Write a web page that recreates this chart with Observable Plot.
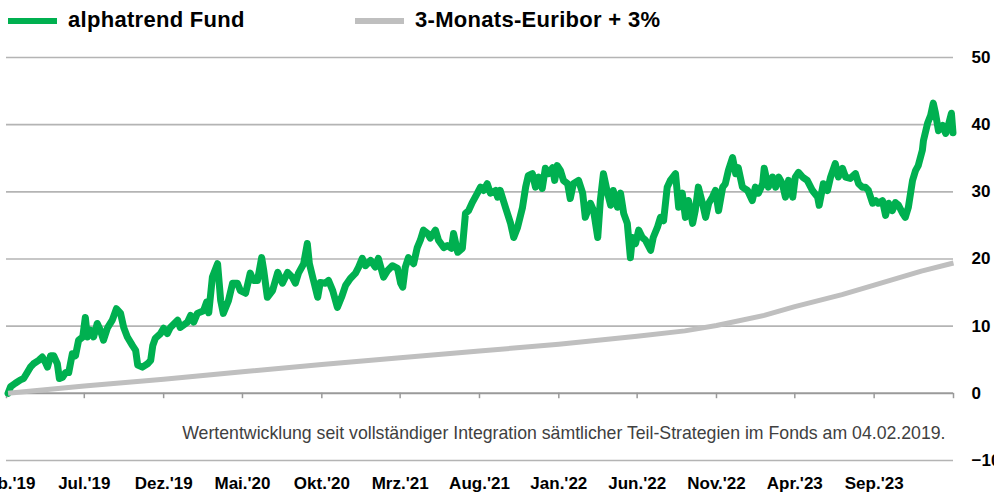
<!DOCTYPE html>
<html><head><meta charset="utf-8">
<script src="https://cdn.jsdelivr.net/npm/d3@7"></script>
<script src="https://cdn.jsdelivr.net/npm/@observablehq/plot@0.6"></script>
<style>
body{margin:0;background:#fff;width:994px;height:493px;overflow:hidden;font-family:"Liberation Sans",Arial,sans-serif}
#legend{position:relative;height:40px}
.sw{position:absolute;top:18px;width:49px;height:6px}
.lt{position:absolute;top:7px;font-size:22px;font-weight:bold;line-height:26px;letter-spacing:0.3px;color:#000;white-space:nowrap}
</style></head><body>
<div id="legend"></div>
<div id="chart"></div>
<script>
const seriesNames = ["alphatrend Fund", "3-Monats-Euribor + 3%"];
const seriesColors = ["#00b050", "#bfbfbf"];

const fundDates = ["2019-02-04","2019-02-09","2019-02-18","2019-02-28","2019-03-06","2019-03-13","2019-03-19","2019-03-25","2019-04-04","2019-04-11","2019-04-17","2019-04-21","2019-04-27","2019-05-03","2019-05-10","2019-05-14","2019-05-20","2019-05-26","2019-06-01","2019-06-08","2019-06-14","2019-06-20","2019-06-28","2019-07-03","2019-07-07","2019-07-13","2019-07-19","2019-07-26","2019-08-01","2019-08-07","2019-08-15","2019-08-24","2019-09-01","2019-09-09","2019-09-15","2019-09-22","2019-10-02","2019-10-08","2019-10-12","2019-10-21","2019-10-31","2019-11-06","2019-11-10","2019-11-15","2019-11-25","2019-12-01","2019-12-08","2019-12-14","2019-12-28","2020-01-02","2020-01-16","2020-01-22","2020-01-28","2020-02-04","2020-02-16","2020-02-22","2020-02-26","2020-03-04","2020-03-14","2020-03-20","2020-03-25","2020-04-04","2020-04-12","2020-04-21","2020-04-27","2020-05-07","2020-05-16","2020-05-22","2020-05-30","2020-06-07","2020-06-11","2020-06-18","2020-06-28","2020-07-08","2020-07-17","2020-07-27","2020-08-05","2020-08-11","2020-08-17","2020-08-27","2020-09-03","2020-09-07","2020-09-15","2020-09-23","2020-09-28","2020-10-08","2020-10-14","2020-10-22","2020-10-31","2020-11-08","2020-11-16","2020-11-25","2020-12-05","2020-12-11","2020-12-18","2020-12-24","2021-01-03","2021-01-12","2021-01-18","2021-01-28","2021-02-05","2021-02-14","2021-02-24","2021-03-02","2021-03-06","2021-03-11","2021-03-17","2021-03-27","2021-04-03","2021-04-09","2021-04-15","2021-04-23","2021-04-28","2021-05-08","2021-05-14","2021-05-24","2021-05-31","2021-06-08","2021-06-12","2021-06-20","2021-06-29","2021-07-05","2021-07-11","2021-07-18","2021-07-28","2021-08-03","2021-08-09","2021-08-16","2021-08-22","2021-09-01","2021-09-05","2021-09-10","2021-09-20","2021-09-30","2021-10-06","2021-10-13","2021-10-23","2021-10-29","2021-11-03","2021-11-11","2021-11-17","2021-11-23","2021-11-30","2021-12-06","2021-12-12","2021-12-20","2021-12-24","2021-12-29","2022-01-04","2022-01-10","2022-01-18","2022-01-23","2022-01-29","2022-02-08","2022-02-16","2022-02-21","2022-03-03","2022-03-09","2022-03-17","2022-03-22","2022-03-28","2022-04-05","2022-04-11","2022-04-16","2022-04-24","2022-04-30","2022-05-06","2022-05-13","2022-05-19","2022-05-23","2022-05-29","2022-06-04","2022-06-11","2022-06-17","2022-06-27","2022-07-02","2022-07-10","2022-07-16","2022-07-22","2022-07-29","2022-08-04","2022-08-14","2022-08-20","2022-08-27","2022-09-02","2022-09-08","2022-09-16","2022-09-21","2022-09-27","2022-10-05","2022-10-11","2022-10-17","2022-10-24","2022-10-30","2022-11-05","2022-11-13","2022-11-18","2022-11-24","2022-12-02","2022-12-08","2022-12-13","2022-12-21","2022-12-31","2023-01-09","2023-01-15","2023-01-21","2023-01-29","2023-02-01","2023-02-09","2023-02-17","2023-02-23","2023-03-01","2023-03-08","2023-03-14","2023-03-20","2023-03-28","2023-04-02","2023-04-08","2023-04-16","2023-04-25","2023-05-05","2023-05-15","2023-05-18","2023-05-26","2023-06-03","2023-06-09","2023-06-18","2023-06-24","2023-07-02","2023-07-08","2023-07-17","2023-07-27","2023-08-02","2023-08-09","2023-08-15","2023-08-21","2023-08-29","2023-09-04","2023-09-09","2023-09-17","2023-09-23","2023-09-29","2023-10-06","2023-10-12","2023-10-18","2023-10-26","2023-10-31","2023-11-06","2023-11-14","2023-11-20","2023-11-25","2023-12-03","2023-12-05","2023-12-13","2023-12-19","2023-12-24","2023-12-28","2024-01-03","2024-01-11","2024-01-17","2024-01-22","2024-01-28","2024-01-31"];
const fundValues = [0.0,1.0,1.5,2.0,2.2,3.1,3.9,4.4,4.9,5.4,4.6,3.9,5.6,5.6,4.4,2.2,2.4,3.1,3.1,5.9,5.6,7.9,8.4,11.3,8.4,9.4,8.4,10.4,9.4,7.9,9.8,10.9,12.6,11.9,9.8,8.4,7.1,6.4,4.2,3.9,4.4,4.9,7.1,8.2,8.9,9.7,8.9,9.8,10.9,9.8,10.6,11.6,10.6,11.9,12.3,13.6,12.0,17.3,19.3,13.8,11.9,13.8,16.4,16.4,15.3,14.9,17.9,16.8,16.8,20.2,18.3,14.3,15.3,18.0,16.4,18.0,17.3,16.4,17.9,19.3,22.3,19.3,16.8,14.3,16.5,16.4,16.8,15.3,12.8,14.3,16.1,17.1,17.9,18.8,20.1,19.0,19.8,18.8,20.1,17.3,18.3,19.0,18.6,16.4,15.8,18.8,20.2,19.3,21.7,22.8,24.3,23.8,23.1,24.3,22.8,21.7,22.0,21.6,23.8,21.0,21.6,26.8,27.2,28.4,29.8,30.7,30.2,31.2,29.8,30.2,29.2,30.2,27.7,25.3,23.2,24.6,27.7,30.7,32.4,32.7,30.7,32.2,30.5,33.5,32.7,33.6,31.7,33.9,33.2,31.7,31.2,29.0,31.2,31.7,29.8,26.2,28.3,27.2,23.2,28.7,32.7,29.8,28.0,30.2,27.7,29.8,26.8,25.3,20.2,23.2,22.3,24.3,23.2,22.8,21.3,23.2,24.7,26.2,25.7,30.7,31.7,32.7,27.7,29.8,26.2,28.7,25.3,27.2,30.7,28.3,26.2,28.3,29.2,30.2,27.2,30.7,31.2,33.2,35.1,32.7,33.6,30.7,30.2,28.7,30.7,29.8,31.2,33.5,30.7,32.2,30.7,32.2,31.2,29.2,31.7,29.2,32.2,32.9,32.2,31.7,30.2,29.2,28.0,31.2,30.2,32.2,34.2,32.2,33.5,32.2,32.0,32.7,31.2,30.7,30.7,30.2,28.3,28.7,28.3,28.7,26.5,28.3,27.2,28.4,28.0,26.8,26.2,27.7,31.7,33.2,33.9,36.2,37.6,40.2,41.4,43.2,41.8,39.1,39.9,38.7,39.9,41.7,38.8];

const benchDates = ["2019-02-04","2019-07-01","2019-12-01","2020-05-01","2020-10-01","2021-03-01","2021-08-01","2022-01-01","2022-06-01","2022-09-01","2022-11-01","2023-02-01","2023-04-01","2023-07-01","2023-09-01","2023-12-01","2024-02-01"];
const benchValues = [0.0,1.1,2.1,3.2,4.3,5.3,6.3,7.3,8.5,9.3,10.1,11.6,12.9,14.7,16.1,18.2,19.4];

const tickDates = ["2019-02-01","2019-07-01","2019-12-01","2020-05-01","2020-10-01","2021-03-01","2021-08-01","2022-01-01","2022-06-01","2022-11-01","2023-04-01","2023-09-01","2024-02-01"];
const tickLabels = ["Feb.'19","Jul.'19","Dez.'19","Mai.'20","Okt.'20","Mrz.'21","Aug.'21","Jan.'22","Jun.'22","Nov.'22","Apr.'23","Sep.'23",""];
const yTicks = [-10, 0, 10, 20, 30, 40, 50];
const gridValues = [-10, 10, 20, 30, 40, 50];
const caption = "Wertentwicklung seit vollständiger Integration sämtlicher Teil-Strategien im Fonds am 04.02.2019.";

// legend
const legend = document.getElementById("legend");
const legendPos = [[8, 68], [355, 415]];
seriesNames.forEach((name, i) => {
  const sw = document.createElement("div");
  sw.className = "sw"; sw.style.left = legendPos[i][0] + "px"; sw.style.background = seriesColors[i];
  legend.appendChild(sw);
  const t = document.createElement("div");
  t.className = "lt"; t.style.left = legendPos[i][1] + "px"; t.textContent = name;
  legend.appendChild(t);
});

const fund = fundDates.map((d, i) => ({date: new Date(d), value: fundValues[i]}));
const bench = benchDates.map((d, i) => ({date: new Date(d), value: benchValues[i]}));
const xTicks = tickDates.map(d => new Date(d));
const labelOf = new Map(xTicks.map((d, i) => [+d, tickLabels[i]]));

const chart = Plot.plot({
  width: 994, height: 453,
  marginTop: 17, marginBottom: 33, marginLeft: 6, marginRight: 41,
  x: {type: "utc", domain: [new Date("2019-02-01"), new Date("2024-02-01")], label: null},
  y: {domain: [-10, 50], label: null},
  style: {fontFamily: "'Liberation Sans', Arial, sans-serif", fontSize: "17px", fontWeight: "bold", color: "#000", background: "#fff"},
  marks: [
    Plot.ruleY(gridValues, {stroke: "#b4b4b4", strokeWidth: 1.6}),
    Plot.ruleY([0], {stroke: "#9a9a9a", strokeWidth: 2}),
    Plot.ruleX(xTicks, {x: d => d, y1: 0, y2: -0.8, stroke: "#9a9a9a", strokeWidth: 1.5}),
    Plot.axisX({ticks: xTicks, tickFormat: d => labelOf.get(+d) ?? "", tickSize: 0, tickPadding: 16, anchor: "bottom", fill: "#000"}),
    Plot.axisY({anchor: "right", ticks: yTicks, tickSize: 0, tickPadding: 18, fill: "#000"}),
    Plot.text([caption], {text: d => d, frameAnchor: "bottom-right", dx: -8, dy: -27, lineAnchor: "middle", fontWeight: "normal", fontSize: 17.7, fill: "#404040"}),
    Plot.line(fund, {x: "date", y: "value", stroke: seriesColors[0], strokeWidth: 7, strokeLinejoin: "round", strokeLinecap: "round"}),
    Plot.line(bench, {x: "date", y: "value", stroke: seriesColors[1], strokeWidth: 5, strokeLinejoin: "round", strokeLinecap: "butt"})
  ]
});
document.getElementById("chart").appendChild(chart);
</script>
</body></html>
